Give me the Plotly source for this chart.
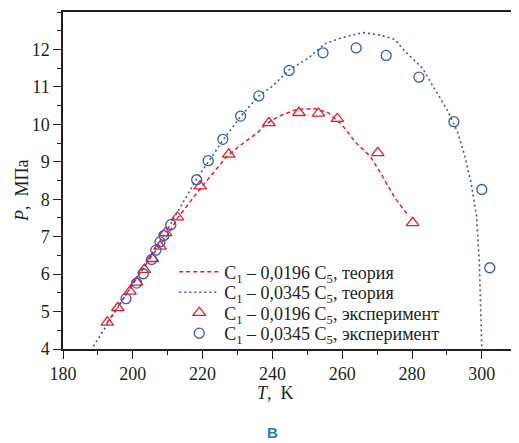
import plotly.graph_objects as go

RED = "#ec1c24"
BLUE = "#3a59ae"
INK = "#231f20"
SERIF = "Liberation Serif, Times New Roman, serif"

# theory curves
t_theory_1 = [192.5, 200, 205, 210, 213, 220, 227, 230, 236, 238, 242, 247, 252, 256,
              260, 264, 268, 271, 275, 279]
p_theory_1 = [4.68, 5.73, 6.43, 7.05, 7.52, 8.36, 9.15, 9.38, 9.8, 10.0, 10.22, 10.4, 10.42, 10.31,
              9.98, 9.5, 9.15, 8.7, 8.05, 7.55]

t_theory_2 = [188.7, 195, 200, 205, 210, 218, 222, 226, 231, 236, 240, 245, 250, 255, 260,
              266, 271, 275, 278, 283, 286, 290, 293, 295, 297, 298.5, 299.3, 300]
p_theory_2 = [4.07, 4.99, 5.72, 6.45, 7.2, 8.5, 9.05, 9.6, 10.22, 10.75, 11.02, 11.47, 11.75, 12.15, 12.32,
              12.45, 12.38, 12.27, 11.95, 11.5, 11.02, 10.4, 9.8, 9.2, 8.4, 7.55, 6.3, 4.03]

# experimental points
t_exp_1 = [192.7, 195.7, 199.2, 201.1, 203.3, 205.6, 207.8, 209.4, 212.8, 219.3, 227.5,
           239.0, 247.6, 253.2, 258.6, 270.2, 280.2]
p_exp_1 = [4.71, 5.10, 5.54, 5.78, 6.12, 6.41, 6.74, 7.10, 7.52, 8.35, 9.20,
           10.04, 10.31, 10.29, 10.15, 9.24, 7.37]

t_exp_2 = [198.05, 201.1, 203.0, 205.4, 206.6, 207.8, 208.9, 210.9, 218.3, 221.6, 225.8,
           230.9, 236.1, 244.8, 254.5, 264.0, 272.6, 282.0, 292.0, 300.0, 302.3]
p_exp_2 = [5.345, 5.76, 6.01, 6.39, 6.64, 6.86, 7.03, 7.32, 8.52, 9.03, 9.60,
           10.22, 10.76, 11.44, 11.91, 12.04, 11.84, 11.26, 10.07, 8.26, 6.17]

names = [
    "C<sub>1</sub> – 0,0196 C<sub>5</sub>, теория",
    "C<sub>1</sub> – 0,0345 C<sub>5</sub>, теория",
    "C<sub>1</sub> – 0,0196 C<sub>5</sub>, эксперимент",
    "C<sub>1</sub> – 0,0345 C<sub>5</sub>, эксперимент",
]

fig = go.Figure()
fig.add_trace(go.Scatter(x=t_theory_1, y=p_theory_1, mode="lines", name=names[0],
                         legend="legend",
                         line=dict(color=RED, width=1.5, dash="4px,3px")))
fig.add_trace(go.Scatter(x=t_theory_2, y=p_theory_2, mode="lines", name=names[1],
                         legend="legend2",
                         line=dict(color=BLUE, width=1.6, dash="2px,3px")))
fig.add_trace(go.Scatter(x=t_exp_1, y=p_exp_1, mode="markers", name=names[2],
                         legend="legend3",
                         marker=dict(symbol="triangle-up-open", size=11, color=RED,
                                     line=dict(width=1.3, color=RED))))
fig.add_trace(go.Scatter(x=t_exp_2, y=p_exp_2, mode="markers", name=names[3],
                         legend="legend4",
                         marker=dict(symbol="circle-open", size=10, color=BLUE,
                                     line=dict(width=1.3, color=BLUE))))

axis_common = dict(
    showgrid=False, zeroline=False, showline=True, linecolor=INK, linewidth=1.5,
    ticks="outside", ticklen=8, tickwidth=1.2, tickcolor=INK,
    tickfont=dict(family=SERIF, size=18, color=INK),
)

fig.update_xaxes(range=[180, 310.66], dtick=20, mirror=True,
                 minor=dict(dtick=10, ticks="outside", ticklen=4, tickcolor=INK),
                 **axis_common)
fig.update_yaxes(range=[4, 13], dtick=1, tickvals=list(range(4, 13)),
                 minor=dict(dtick=0.5, ticks="outside", ticklen=4, tickcolor=INK),
                 **axis_common)

fig.add_annotation(text="<i>P</i>,  МПа", xref="paper", yref="paper",
                   x=-0.09, y=0.472, xanchor="center", yanchor="middle",
                   textangle=-90, showarrow=False,
                   font=dict(family=SERIF, size=18, color=INK))
fig.add_annotation(text="<i>T</i>,  K", xref="paper", yref="paper",
                   x=0.465, y=-0.13, xanchor="center", yanchor="middle", showarrow=False,
                   font=dict(family=SERIF, size=18, color=INK))
fig.add_annotation(text="<b>В</b>", xref="paper", yref="paper",
                   x=0.46, y=-0.249, xanchor="center", yanchor="middle", showarrow=False,
                   font=dict(family="Liberation Sans, Arial, sans-serif", size=15, color="#1c7ec6"))

# one legend per row so the rows sit as tightly as in the original
legend_style = dict(x=0.244, xanchor="left", yanchor="middle", itemwidth=40,
                    bgcolor="rgba(0,0,0,0)", borderwidth=0,
                    font=dict(family=SERIF, size=18, color=INK))
row_y = [0.2285, 0.1677, 0.1068, 0.046]

# the page body adds an 8px offset, so the figure is 8px smaller than the window
fig.update_layout(
    width=511, height=435,
    margin=dict(l=55, r=0, t=4, b=94),
    paper_bgcolor="white", plot_bgcolor="white",
    showlegend=True,
    legend=dict(y=row_y[0], **legend_style),
    legend2=dict(y=row_y[1], **legend_style),
    legend3=dict(y=row_y[2], **legend_style),
    legend4=dict(y=row_y[3], **legend_style),
    font=dict(family=SERIF, color=INK),
)

fig.write_html("out.html")
